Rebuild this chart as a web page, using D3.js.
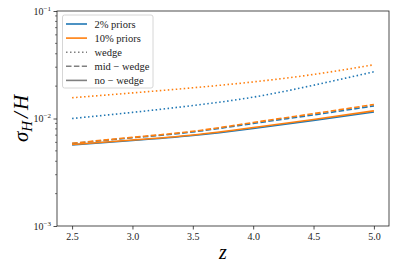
<!DOCTYPE html>
<html>
<head>
<meta charset="utf-8">
<script src="https://cdn.jsdelivr.net/npm/d3@7"></script>
<style>
  body { margin: 0; background: #fff; }
  svg { display: block; }
  text { font-family: "Liberation Serif", serif; }
</style>
</head>
<body>
<div id="chart"></div>
<script>
// redshift grid
const zVals = [2.5, 3.0, 3.5, 4.0, 4.5, 5.0];

// sigma_H / H
const blueWedge   = [0.0100, 0.0114, 0.0132, 0.0158, 0.0204, 0.0272];
const orangeWedge = [0.0156, 0.0173, 0.0193, 0.0219, 0.0257, 0.0316];
const blueMid     = [0.00585, 0.00662, 0.0075, 0.00900, 0.0108, 0.0131];
const orangeMid   = [0.00588, 0.00668, 0.0076, 0.00918, 0.0111, 0.0135];
const blueNo      = [0.00568, 0.00624, 0.00694, 0.00808, 0.0096, 0.0115];
const orangeNo    = [0.00573, 0.00631, 0.00703, 0.00824, 0.0098, 0.0118];

const xTicks = [2.5, 3.0, 3.5, 4.0, 4.5, 5.0];
const yMajor = [-3, -2, -1];

const legendItems = ["2% priors", "10% priors", "wedge", "mid \u2212 wedge", "no \u2212 wedge"];

const width = 400, height = 271;
const margin = {top: 11, right: 11, bottom: 45, left: 57};

const blue = "#1f77b4", orange = "#ff7f0e", grey = "#808080";
const dotted = "1.5,2.5", dashed = "5.5,2.4";
const serif = "'Liberation Serif', serif";

const svg = d3.select("#chart").append("svg")
    .attr("width", width)
    .attr("height", height);

const x = d3.scaleLinear()
    .domain([2.375, 5.125])
    .range([margin.left, width - margin.right]);

const y = d3.scaleLog()
    .domain([1e-3, 1e-1])
    .range([height - margin.bottom, margin.top]);

// lines
const line = d3.line()
    .x(d => x(d[0]))
    .y(d => y(d[1]))
    .curve(d3.curveNatural);

const series = [
  {v: blueWedge, c: blue, dash: dotted},
  {v: orangeWedge, c: orange, dash: dotted},
  {v: blueMid, c: blue, dash: dashed},
  {v: orangeMid, c: orange, dash: dashed},
  {v: blueNo, c: blue, dash: null},
  {v: orangeNo, c: orange, dash: null}
];

const plot = svg.append("g");
series.forEach(s => {
  plot.append("path")
      .datum(zVals.map((z, i) => [z, s.v[i]]))
      .attr("fill", "none")
      .attr("stroke", s.c)
      .attr("stroke-width", 1.6)
      .attr("stroke-dasharray", s.dash)
      .attr("d", line);
});

// x axis
const xAxis = svg.append("g")
    .attr("transform", "translate(0," + (height - margin.bottom) + ")")
    .call(d3.axisBottom(x).tickValues(xTicks).tickFormat(d3.format(".1f")).tickSize(3.5).tickPadding(3));
xAxis.attr("font-family", null);
xAxis.select(".domain").remove();
xAxis.selectAll(".tick line").attr("stroke", "#222").attr("stroke-width", 0.8);
xAxis.selectAll(".tick text")
    .style("font-family", serif)
    .style("font-size", "10px")
    .attr("fill", "#222");

// y axis, major
const yAxis = svg.append("g")
    .attr("transform", "translate(" + margin.left + ",0)")
    .call(d3.axisLeft(y).tickValues(yMajor.map(e => Math.pow(10, e))).tickFormat("").tickSize(3.5));
yAxis.select(".domain").remove();
yAxis.selectAll(".tick line").attr("stroke", "#222").attr("stroke-width", 0.8);

// minor ticks
const minor = [];
[-3, -2].forEach(e => { for (let k = 2; k <= 9; k++) minor.push(k * Math.pow(10, e)); });
svg.append("g").selectAll("line")
    .data(minor).enter().append("line")
    .attr("x1", margin.left - 2).attr("x2", margin.left)
    .attr("y1", d => y(d)).attr("y2", d => y(d))
    .attr("stroke", "#222").attr("stroke-width", 0.6);

// y tick labels 10^e
yMajor.forEach(e => {
  const t = svg.append("text")
      .attr("x", margin.left - 6)
      .attr("y", y(Math.pow(10, e)) + 3.5)
      .attr("text-anchor", "end")
      .attr("fill", "#222")
      .style("font-family", serif)
      .style("font-size", "10px");
  t.append("tspan").text("10");
  t.append("tspan").attr("dy", -4).style("font-size", "7px").text("\u2212" + Math.abs(e));
});

// frame
svg.append("rect")
    .attr("x", margin.left).attr("y", margin.top)
    .attr("width", width - margin.left - margin.right)
    .attr("height", height - margin.top - margin.bottom)
    .attr("fill", "none")
    .attr("stroke", "#222")
    .attr("stroke-width", 0.8);

// axis labels
svg.append("text")
    .attr("x", (margin.left + width - margin.right) / 2)
    .attr("y", 259)
    .attr("text-anchor", "middle")
    .style("font-family", serif)
    .style("font-style", "italic")
    .style("font-size", "20px")
    .text("z");

const yl = svg.append("text")
    .attr("transform", "translate(28," + ((margin.top + height - margin.bottom) / 2) + ") rotate(-90)")
    .attr("text-anchor", "middle")
    .style("font-family", serif)
    .style("font-style", "italic")
    .style("font-size", "21px");
yl.append("tspan").text("\u03c3");
yl.append("tspan").attr("dy", 4).style("font-size", "15px").text("H");
yl.append("tspan").attr("dy", -4).attr("dx", 3).text("/");
yl.append("tspan").attr("dx", 2).text("H");

// legend
const lg = svg.append("g");
lg.append("rect")
    .attr("x", 62.5).attr("y", 15)
    .attr("width", 90.5).attr("height", 73)
    .attr("rx", 2)
    .attr("fill", "#fff").attr("fill-opacity", 0.8)
    .attr("stroke", "#ccc").attr("stroke-width", 0.8);

const legendStyle = [
  {c: blue, dash: null},
  {c: orange, dash: null},
  {c: grey, dash: dotted},
  {c: grey, dash: dashed},
  {c: grey, dash: null}
];

legendItems.forEach((label, i) => {
  const yy = 24 + i * 14.1;
  lg.append("line")
      .attr("x1", 66).attr("x2", 87)
      .attr("y1", yy).attr("y2", yy)
      .attr("stroke", legendStyle[i].c)
      .attr("stroke-width", 1.6)
      .attr("stroke-dasharray", legendStyle[i].dash);
  lg.append("text")
      .attr("x", 94.5).attr("y", yy + 3.5)
      .attr("fill", "#222")
      .style("font-family", serif)
      .style("font-size", "10.5px")
      .text(label);
});
</script>
</body>
</html>
